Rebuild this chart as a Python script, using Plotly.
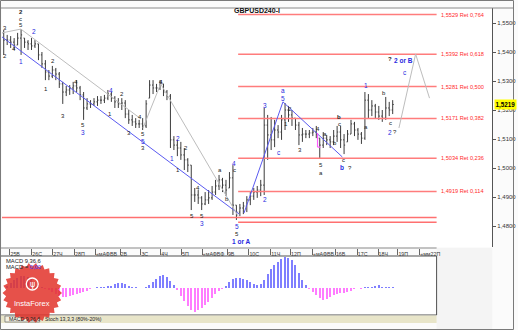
import math
import plotly.graph_objects as go

W, H = 518, 330

# ---------------- data ----------------
bar_index = list(range(113))
high = [
    1.5476, 1.5459, 1.5455, 1.5448, 1.5466, 1.5479, 1.5448, 1.5441, 1.5448, 1.5441,
    1.5428, 1.5400, 1.5372, 1.5338, 1.5352, 1.5345, 1.5331, 1.5297, 1.5283, 1.5286,
    1.5297, 1.5303, 1.5283, 1.5262, 1.5241, 1.5234, 1.5241, 1.5248, 1.5248, 1.5252,
    1.5269, 1.5262, 1.5248, 1.5241, 1.5241, 1.5234, 1.5200, 1.5183, 1.5172, 1.5166,
    1.5172, 1.5234, 1.5303, 1.5303, 1.5290, 1.5303, 1.5290, 1.5269, 1.5255, 1.5110,
    1.5097, 1.5090, 1.5069, 1.5034, 1.5010, 1.4931, 1.4924, 1.4903, 1.4917, 1.4924,
    1.4938, 1.4959, 1.4976, 1.4966, 1.4959, 1.4986, 1.5010, 1.4872, 1.4876, 1.4883,
    1.4903, 1.4917, 1.4931, 1.4938, 1.4959, 1.5207, 1.5183, 1.5176, 1.5166, 1.5148,
    1.5183, 1.5224, 1.5214, 1.5200, 1.5172, 1.5159, 1.5138, 1.5131, 1.5131, 1.5138,
    1.5145, 1.5103, 1.5124, 1.5114, 1.5110, 1.5131, 1.5145, 1.5145, 1.5117, 1.5131,
    1.5166, 1.5159, 1.5138, 1.5124, 1.5262, 1.5255, 1.5234, 1.5221, 1.5214, 1.5200,
    1.5245, 1.5228, 1.5234]
low = [
    1.5390, 1.5424, 1.5414, 1.5407, 1.5424, 1.5390, 1.5414, 1.5407, 1.5407, 1.5414,
    1.5372, 1.5345, 1.5303, 1.5303, 1.5310, 1.5303, 1.5276, 1.5221, 1.5248, 1.5252,
    1.5255, 1.5262, 1.5234, 1.5166, 1.5200, 1.5207, 1.5214, 1.5214, 1.5221, 1.5224,
    1.5234, 1.5228, 1.5207, 1.5207, 1.5200, 1.5172, 1.5152, 1.5145, 1.5138, 1.5138,
    1.5131, 1.5138, 1.5241, 1.5255, 1.5262, 1.5269, 1.5248, 1.5234, 1.5069, 1.5062,
    1.5041, 1.5028, 1.4993, 1.4986, 1.4855, 1.4883, 1.4876, 1.4855, 1.4872, 1.4876,
    1.4890, 1.4907, 1.4924, 1.4917, 1.4903, 1.4931, 1.4838, 1.4821, 1.4834, 1.4841,
    1.4848, 1.4872, 1.4890, 1.4897, 1.4903, 1.4907, 1.5028, 1.5062, 1.5072, 1.5103,
    1.5097, 1.5131, 1.5159, 1.5145, 1.5131, 1.5079, 1.5090, 1.5103, 1.5103, 1.5110,
    1.5103, 1.5034, 1.5069, 1.5079, 1.5069, 1.5079, 1.5090, 1.5069, 1.5048, 1.5090,
    1.5117, 1.5110, 1.5097, 1.5083, 1.5097, 1.5172, 1.5179, 1.5172, 1.5166, 1.5159,
    1.5166, 1.5179, 1.5186]
close = [
    1.5441, 1.5441, 1.5434, 1.5424, 1.5448, 1.5459, 1.5434, 1.5428, 1.5421, 1.5428,
    1.5390, 1.5359, 1.5331, 1.5317, 1.5338, 1.5324, 1.5290, 1.5262, 1.5269, 1.5276,
    1.5283, 1.5276, 1.5252, 1.5207, 1.5221, 1.5221, 1.5228, 1.5234, 1.5234, 1.5241,
    1.5255, 1.5241, 1.5228, 1.5221, 1.5224, 1.5186, 1.5166, 1.5159, 1.5152, 1.5152,
    1.5145, 1.5221, 1.5286, 1.5276, 1.5276, 1.5290, 1.5262, 1.5248, 1.5097, 1.5079,
    1.5069, 1.5045, 1.5028, 1.5010, 1.4907, 1.4907, 1.4897, 1.4876, 1.4890, 1.4897,
    1.4917, 1.4938, 1.4959, 1.4941, 1.4924, 1.4966, 1.4872, 1.4848, 1.4862, 1.4869,
    1.4890, 1.4903, 1.4917, 1.4924, 1.4941, 1.5148, 1.5114, 1.5097, 1.5131, 1.5124,
    1.5166, 1.5200, 1.5183, 1.5172, 1.5148, 1.5114, 1.5117, 1.5117, 1.5121, 1.5124,
    1.5117, 1.5079, 1.5103, 1.5097, 1.5090, 1.5110, 1.5124, 1.5097, 1.5079, 1.5117,
    1.5152, 1.5131, 1.5117, 1.5103, 1.5234, 1.5200, 1.5214, 1.5193, 1.5179, 1.5172,
    1.5207, 1.5200, 1.5219]
first_open = 1.5466

macd_hist = [
    0.0000, 0.0002, 0.0005, 0.0008, 0.0010, 0.0012, 0.0012, 0.0011, 0.0009, 0.0006,
    0.0003, 0.0001, -0.0001, -0.0002, -0.0004, -0.0006, -0.0008, -0.0009, -0.0009, -0.0008,
    -0.0007, -0.0006, -0.0005, -0.0004, -0.0003, -0.0001, 0.0000, 0.00005, 0.0001, 0.0001,
    0.00015, 0.00025, 0.0004, 0.0005, 0.0005, 0.0004, 0.0002, 0.0001, 0.00005, 0.0000,
    0.0000, 0.00005, 0.0003, 0.0006, 0.0009, 0.0012, 0.0013, 0.0011, 0.0007, 0.0003,
    -0.0002, -0.0008, -0.0013, -0.0018, -0.0022, -0.0024, -0.0022, -0.0020, -0.0017, -0.0014,
    -0.0010, -0.0006, -0.0003, -0.0001, 0.0002, 0.0006, 0.0009, 0.0010, 0.0010, 0.0009,
    0.0008, 0.0006, 0.0004, 0.0003, 0.0004, 0.0008, 0.0014, 0.0019, 0.0023, 0.0026,
    0.0029, 0.0031, 0.0030, 0.0028, 0.0023, 0.0015, 0.0008, 0.0003, -0.0001, -0.0004,
    -0.0007, -0.0010, -0.0012, -0.0011, -0.0009, -0.0007, -0.0006, -0.0005, -0.0005, -0.0004,
    -0.0003, -0.0001, 0.0000, -0.0001, 0.00005, 0.00005, 0.0001, 0.0002, 0.0003, 0.0001,
    0.00005, 0.00005, 0.00005]

date_ticks = [1.8, 8.1, 14.1, 20.4, 26.4, 33.5, 39.5, 45.2, 51.2, 57.2,
              64.4, 70.6, 76.9, 82.6, 88.9, 95.5, 101.8, 107.8, 113.5, 119.8]
date_labels = ["25В", "26С", "27Ч", "28П", "«мАФВВ", "2В", "3С", "4Ч", "5П", "«мАФВФ",
               "9В", "10С", "11Ч", "12П", "«мАФВВ", "16В", "17С", "18Ч", "19П", "«мм22П"]

fib_levels = [1.5529, 1.5392, 1.5281, 1.5171, 1.5034, 1.4919]
fib_ratios = ["0,764", "0,618", "0,500", "0,382", "0,236", "0,114"]
base_levels = [1.4829, 1.4813]
price_ticks = [1.48, 1.49, 1.50, 1.51, 1.52, 1.53, 1.54, 1.55]
last_price = 1.5219

# wave labels: (bar index, price, text, colour key, bold)
wave_labels = [
    (4.93, 1.5537, "2", "k", True), (4.93, 1.5515, "c", "k", False), (4.93, 1.5493, "5", "k", False),
    (0.3, 1.5483, "3", "k", False), (8.64, 1.5469, "2", "b", False), (2.93, 1.5410, "4", "k", False),
    (0.3, 1.5386, "2", "k", False), (4.93, 1.5366, "1", "b", False), (14.07, 1.5369, "2", "k", False),
    (12.07, 1.5272, "1", "k", False), (20.93, 1.5297, "4", "k", False), (30.93, 1.5266, "4", "b", False),
    (34.07, 1.5255, "2", "k", False), (30.64, 1.5186, "1", "k", False), (16.93, 1.5179, "3", "k", False),
    (22.93, 1.5148, "5", "k", False), (22.93, 1.5124, "3", "b", False), (36.07, 1.5121, "3", "k", False),
    (39.21, 1.5176, "4", "k", False), (40.07, 1.5117, "5", "k", False), (40.07, 1.5093, "5", "b", False),
    (40.07, 1.5069, "3", "k", False), (45.21, 1.5297, "4", "k", True), (50.07, 1.5103, "2", "b", False),
    (48.36, 1.5034, "1", "b", False), (52.36, 1.5069, "2", "k", False), (50.07, 1.4993, "1", "k", False),
    (56.07, 1.4931, "4", "k", False), (54.07, 1.4834, "5", "k", False), (57.21, 1.4834, "5", "k", False),
    (57.21, 1.4810, "3", "b", False), (62.36, 1.4993, "a", "k", False), (66.36, 1.5017, "4", "b", False),
    (66.36, 1.4993, "c", "k", False), (64.36, 1.4893, "b", "k", False), (67.21, 1.4797, "5", "b", False),
    (67.21, 1.4772, "5", "k", False), (68.36, 1.4748, "1 or A", "b", True),
    (75.21, 1.5217, "3", "b", False), (75.21, 1.4890, "2", "b", False), (80.36, 1.5266, "a", "b", False),
    (80.36, 1.5241, "5", "b", False), (79.21, 1.5052, "c", "b", False), (81.21, 1.5152, "1", "k", False),
    (82.36, 1.5203, "2", "k", False), (85.21, 1.5062, "3", "k", False), (90.36, 1.5134, "4", "k", False),
    (92.64, 1.5117, "a", "k", False), (91.5, 1.5010, "5", "k", False), (91.5, 1.4983, "a", "k", False),
    (95.5, 1.5086, "b", "k", False), (96.64, 1.5176, "b", "k", True), (96.64, 1.5152, "c", "k", False),
    (97.79, 1.5028, "c", "k", False), (97.5, 1.5003, "b", "b", True), (99.79, 1.5000, "?", "k", False),
    (104.36, 1.5286, "1", "b", False), (104.36, 1.5141, "a", "k", False), (109.5, 1.5259, "b", "k", False),
    (111.5, 1.5155, "c", "k", False), (111.21, 1.5124, "2", "b", False), (112.64, 1.5124, "?", "k", False),
    (111.21, 1.5376, "?", "k", True), (115.21, 1.5372, "2 or B", "b", True), (115.5, 1.5328, "c", "b", False),
]

# wave / channel lines in (bar index, price)
blue_lines = [
    [(-0.5, 1.5452), (67.8, 1.4841)],
    [(69.2, 1.4845), (80.4, 1.5228), (97.5, 1.5038)],
]
gray_lines = [
    [(-0.5, 1.5466), (4.93, 1.5479), (39.2, 1.5172)],
    [(40.1, 1.5138), (45.2, 1.5290), (67.5, 1.4834)],
    [(113.8, 1.5138), (118.6, 1.5393), (122.6, 1.5241)],
]

# ---------------- geometry helpers ----------------
def px(x):
    return x / W

def py(y):
    return 1 - y / H

X0, X1, XM = 2, 496, 440
Y0, Y1 = 8, 247
SPB = 3.5  # pixels per bar
x_main_range = [-0.5, -0.5 + (X1 - X0) / SPB]
x_macd_range = [-0.5, -0.5 + (XM - X0) / SPB]
fib_start = 67.5
fib_end = x_macd_range[1]

opens = []
prev = first_open
for h, l, c in zip(high, low, close):
    opens.append(min(max(prev, l), h))
    prev = c

FONT = "Liberation Sans"
BLACK = "#222222"
BLUE = "#2a2ae0"

fig = go.Figure()
fig.add_trace(go.Ohlc(
    x=bar_index, open=opens, high=high, low=low, close=close,
    increasing=dict(line=dict(color="#3c3c3c", width=1)),
    decreasing=dict(line=dict(color="#3c3c3c", width=1)),
    tickwidth=0.3, hoverinfo="skip", xaxis="x", yaxis="y", showlegend=False))

fig.add_trace(go.Bar(
    x=bar_index, y=macd_hist, width=0.38,
    marker=dict(color=["#7f7fff" if v >= 0 else "#ff7cff" for v in macd_hist], line=dict(width=0)),
    xaxis="x2", yaxis="y2", hoverinfo="skip", showlegend=False))

shapes = []
shapes.append(dict(type="rect", xref="paper", yref="paper", x0=px(XM), x1=px(X1), y0=py(330), y1=py(Y1 + 1),
                   fillcolor="#f4f4f4", line=dict(width=0), layer="below"))
shapes.append(dict(type="line", xref="paper", yref="paper", x0=0, x1=1, y0=py(8), y1=py(8),
                   line=dict(color="#8a8a8a", width=1)))
shapes.append(dict(type="line", xref="paper", yref="paper", x0=0, x1=px(XM), y0=py(248), y1=py(248),
                   line=dict(color="#8a8a8a", width=1)))
shapes.append(dict(type="rect", xref="paper", yref="paper", x0=px(0.5), x1=px(XM), y0=py(315), y1=py(256),
                   line=dict(color="#505050", width=1)))
shapes.append(dict(type="rect", xref="paper", yref="paper", x0=px(0.5), x1=px(XM), y0=py(323), y1=py(315.5),
                   fillcolor="#e8e5c9", line=dict(width=0)))
shapes.append(dict(type="rect", xref="paper", yref="paper", x0=px(5), x1=px(40), y0=py(322), y1=py(316),
                   fillcolor="#f4f2e4", line=dict(color="#777", width=0.8)))
shapes.append(dict(type="rect", xref="paper", yref="paper", x0=px(0.5), x1=px(517.5), y0=py(329.5), y1=py(0.5),
                   line=dict(color="#7a7a7a", width=1)))

for lv in fib_levels:
    shapes.append(dict(type="line", xref="x", yref="y", x0=fib_start, x1=fib_end, y0=lv, y1=lv,
                       line=dict(color="#ff7c7c", width=1.5)))
shapes.append(dict(type="line", xref="x", yref="y", x0=-0.5, x1=fib_end, y0=base_levels[0], y1=base_levels[0],
                   line=dict(color="#ff7070", width=1.5)))
shapes.append(dict(type="line", xref="x", yref="y", x0=fib_start, x1=fib_end, y0=base_levels[1], y1=base_levels[1],
                   line=dict(color="#ff7070", width=1.5)))

for seg in blue_lines:
    for (a, b), (c, d) in zip(seg[:-1], seg[1:]):
        shapes.append(dict(type="line", xref="x", yref="y", x0=a, y0=b, x1=c, y1=d,
                           line=dict(color="#5a5af0", width=1)))
for seg in gray_lines:
    for (a, b), (c, d) in zip(seg[:-1], seg[1:]):
        shapes.append(dict(type="line", xref="x", yref="y", x0=a, y0=b, x1=c, y1=d,
                           line=dict(color="#bdbdbd", width=1)))
shapes.append(dict(type="line", xref="x", yref="y", x0=90.36, x1=90.36, y0=1.5121, y1=1.5072,
                   line=dict(color="#ff5cff", width=1.2)))
shapes.append(dict(type="line", xref="x", yref="y", x0=90.36, x1=91.2, y0=1.5072, y1=1.5072,
                   line=dict(color="#ff5cff", width=1.2)))

# InstaForex badge
cx, cy, r_out, r_in, n = 32.5, 293, 30, 26.5, 26
pts = []
for k in range(2 * n):
    ang = math.pi * k / n
    rr = r_out if k % 2 == 0 else r_in
    pts.append((px(cx + rr * math.cos(ang)), py(cy + rr * math.sin(ang))))
path = "M " + " L ".join(f"{a:.5f},{b:.5f}" for a, b in pts) + " Z"
shapes.append(dict(type="path", xref="paper", yref="paper", path=path,
                   fillcolor="rgba(226,52,44,0.86)", line=dict(width=0)))
shapes.append(dict(type="circle", xref="paper", yref="paper", x0=px(cx - 6), x1=px(cx + 6),
                   y0=py(284 + 6), y1=py(284 - 6), line=dict(color="white", width=1.3)))

annotations = []
annotations.append(dict(text="<b>GBPUSD240-I</b>", xref="paper", yref="paper", x=px(259), y=py(4.5),
                        showarrow=False, font=dict(family=FONT, size=7, color="#111")))
for lv, rt in zip(fib_levels, fib_ratios):
    annotations.append(dict(text=f"{lv:.4f} Ret {rt}".replace(".", ","), xref="paper", yref="y",
                            x=px(442), y=lv, xanchor="left", yanchor="middle", showarrow=False,
                            font=dict(family=FONT, size=5.6, color="#ff2a2a")))
annotations.append(dict(text="<b>" + f"{last_price:.4f}".replace(".", ",") + "</b>", xref="paper", yref="y",
                        x=px(497.5), y=last_price, xanchor="left", yanchor="middle", showarrow=False,
                        bgcolor="#ffff00", borderpad=0.5, font=dict(family=FONT, size=6.3, color="#000")))
for xi, pr, tx, ck, bd in wave_labels:
    annotations.append(dict(text=f"<b>{tx}</b>" if bd else tx, xref="x", yref="y", x=xi, y=pr,
                            showarrow=False, xanchor="center", yanchor="middle",
                            font=dict(family=FONT, size=6.5 if ck == "b" else 6,
                                      color=BLUE if ck == "b" else BLACK)))
annotations.append(dict(text="MACD 9,36,6", xref="paper", yref="paper", x=px(4), y=py(260.5),
                        xanchor="left", yanchor="middle", showarrow=False,
                        font=dict(family=FONT, size=5.8, color="#222")))
annotations.append(dict(text="MACD = <span style='color:#3a3aff'>0,00</span>", xref="paper", yref="paper",
                        x=px(4), y=py(266.5), xanchor="left", yanchor="middle", showarrow=False,
                        font=dict(family=FONT, size=5.8, color="#222")))
annotations.append(dict(text="MACD 9,36,6", xref="paper", yref="paper", x=px(7), y=py(319),
                        xanchor="left", yanchor="middle", showarrow=False,
                        font=dict(family=FONT, size=5.2, color="#222")))
annotations.append(dict(text="Stoch 13,3,3 (80%-20%)", xref="paper", yref="paper", x=px(43), y=py(319),
                        xanchor="left", yanchor="middle", showarrow=False,
                        font=dict(family=FONT, size=5.2, color="#222")))
annotations.append(dict(text="InstaForex", xref="paper", yref="paper", x=px(cx), y=py(303),
                        xanchor="center", yanchor="middle", showarrow=False,
                        font=dict(family=FONT, size=7.5, color="white")))
annotations.append(dict(text="ψ", xref="paper", yref="paper", x=px(cx), y=py(284),
                        xanchor="center", yanchor="middle", showarrow=False,
                        font=dict(family="DejaVu Sans", size=8, color="white")))

fig.update_layout(
    width=W, height=H, margin=dict(l=0, r=0, t=0, b=0),
    paper_bgcolor="#fbfbfb", plot_bgcolor="#ffffff",
    separators=", ", showlegend=False, bargap=0,
    xaxis=dict(domain=[px(X0), px(X1)], range=x_main_range, anchor="y",
               showgrid=False, zeroline=False, showticklabels=False, ticks="", showline=False,
               rangeslider=dict(visible=False), fixedrange=True),
    yaxis=dict(domain=[py(Y1), py(Y0)], range=[1.51 + (139 - Y1) / 2900, 1.51 + (139 - Y0) / 2900],
               anchor="x", side="right", tickvals=price_ticks, tickformat=".4f",
               ticks="outside", ticklen=3, tickcolor="#555", showline=True, linecolor="#555",
               linewidth=1, showgrid=False, zeroline=False,
               tickfont=dict(family=FONT, size=6, color="#333")),
    xaxis2=dict(domain=[px(X0), px(XM)], range=x_macd_range, anchor="y2", side="top",
                tickvals=date_ticks, ticktext=date_labels, ticks="outside", ticklen=6,
                tickcolor="#666", ticklabelposition="outside right", ticklabelstandoff=-3,
                tickangle=0, showgrid=False, zeroline=False, showline=False,
                tickfont=dict(family=FONT, size=5.3, color="#333")),
    yaxis2=dict(domain=[py(314), py(256)], range=[-0.0026, 0.0032], anchor="x2",
                showgrid=False, zeroline=False, showticklabels=False, ticks="", showline=False),
    shapes=shapes, annotations=annotations,
)

fig.write_html("out.html")
